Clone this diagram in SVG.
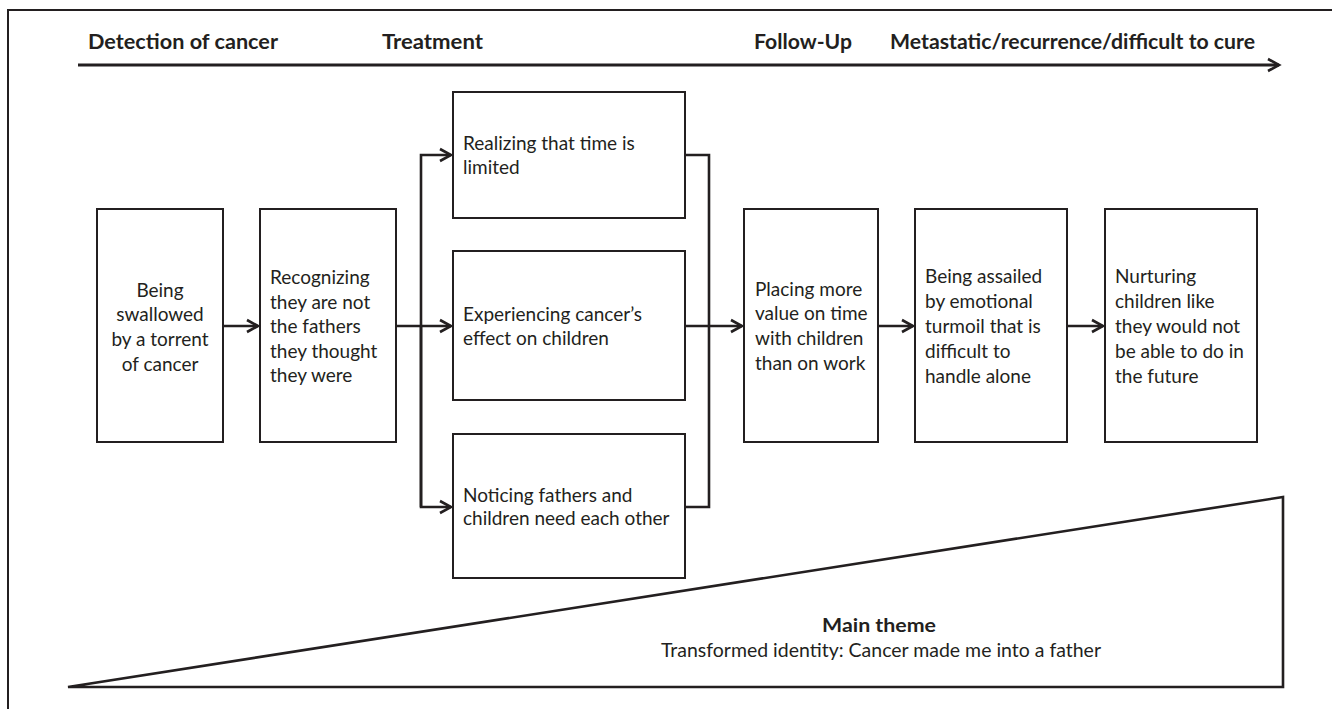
<svg xmlns="http://www.w3.org/2000/svg" width="1332" height="709" viewBox="0 0 1332 709">
<defs>
<marker id="arr" viewBox="-13 -8 16 16" markerWidth="16" markerHeight="16" refX="0" refY="0" orient="auto" markerUnits="userSpaceOnUse">
<polyline points="-11,-6 0,0 -11,6" fill="none" stroke="#231f20" stroke-width="2.6" stroke-linejoin="miter"/>
</marker>
<style>
.box{fill:#fff;stroke:#231f20;stroke-width:2}
.t{font-family:Lato,"Open Sans","Liberation Sans",sans-serif;font-size:19px;fill:#231f20}
.h{font-family:Lato,"Open Sans","Liberation Sans",sans-serif;font-size:21px;font-weight:bold;fill:#231f20}
.c{fill:none;stroke:#231f20;stroke-width:2.6}
</style>
</defs>
<rect width="1332" height="709" fill="#fff"/>
<g id="frame"><polyline points="8,709 8,10 1332,10" fill="none" stroke="#231f20" stroke-width="2"/></g>
<g id="timeline">
<line x1="78" y1="65" x2="1279" y2="65" stroke="#231f20" stroke-width="3" marker-end="url(#arr)"/>
<text class="h" x="88" y="49" textLength="190" lengthAdjust="spacingAndGlyphs">Detection of cancer</text>
<text class="h" x="382" y="49" textLength="101" lengthAdjust="spacingAndGlyphs">Treatment</text>
<text class="h" x="754" y="49" textLength="98" lengthAdjust="spacingAndGlyphs">Follow-Up</text>
<text class="h" x="890" y="49" textLength="365" lengthAdjust="spacingAndGlyphs">Metastatic/recurrence/difficult to cure</text>
</g>
<g id="connectors">
<line class="c" x1="223" y1="326" x2="258" y2="326" marker-end="url(#arr)"/>
<line class="c" x1="396" y1="326" x2="451" y2="326" marker-end="url(#arr)"/>
<polyline class="c" points="421,507 421,155 451,155" marker-end="url(#arr)"/>
<polyline class="c" points="421,326 421,507 451,507" marker-end="url(#arr)"/>
<polyline class="c" points="685,155 709,155 709,507 685,507"/>
<line class="c" x1="685" y1="326" x2="742" y2="326" marker-end="url(#arr)"/>
<line class="c" x1="878" y1="326" x2="913" y2="326" marker-end="url(#arr)"/>
<line class="c" x1="1067" y1="326" x2="1103" y2="326" marker-end="url(#arr)"/>
</g>
<g id="n1">
<rect class="box" x="97" y="209" width="126" height="233"/>
<text class="t" text-anchor="middle"><tspan x="160" y="297">Being</tspan><tspan x="160" y="321">swallowed</tspan><tspan x="160" y="346">by a torrent</tspan><tspan x="160" y="371">of cancer</tspan></text>
</g>
<g id="n2">
<rect class="box" x="260" y="209" width="136" height="233"/>
<text class="t"><tspan x="270" y="284">Recognizing</tspan><tspan x="270" y="309">they are not</tspan><tspan x="270" y="333">the fathers</tspan><tspan x="270" y="358">they thought</tspan><tspan x="270" y="382">they were</tspan></text>
</g>
<g id="n3">
<rect class="box" x="453" y="92" width="232" height="126"/>
<text class="t"><tspan x="463" y="150">Realizing that time is</tspan><tspan x="463" y="174">limited</tspan></text>
</g>
<g id="n4">
<rect class="box" x="453" y="251" width="232" height="149"/>
<text class="t"><tspan x="463" y="321">Experiencing cancer’s</tspan><tspan x="463" y="345">effect on children</tspan></text>
</g>
<g id="n5">
<rect class="box" x="453" y="434" width="232" height="144"/>
<text class="t"><tspan x="463" y="502">Noticing fathers and</tspan><tspan x="463" y="525">children need each other</tspan></text>
</g>
<g id="n6">
<rect class="box" x="744" y="209" width="134" height="233"/>
<text class="t"><tspan x="755" y="296">Placing more</tspan><tspan x="755" y="320">value on time</tspan><tspan x="755" y="345">with children</tspan><tspan x="755" y="370">than on work</tspan></text>
</g>
<g id="n7">
<rect class="box" x="915" y="209" width="152" height="233"/>
<text class="t"><tspan x="925" y="283">Being assailed</tspan><tspan x="925" y="308">by emotional</tspan><tspan x="925" y="333">turmoil that is</tspan><tspan x="925" y="358">difficult to</tspan><tspan x="925" y="383">handle alone</tspan></text>
</g>
<g id="n8">
<rect class="box" x="1105" y="209" width="152" height="233"/>
<text class="t"><tspan x="1115" y="283">Nurturing</tspan><tspan x="1115" y="308">children like</tspan><tspan x="1115" y="333">they would not</tspan><tspan x="1115" y="358">be able to do in</tspan><tspan x="1115" y="383">the future</tspan></text>
</g>
<g id="theme">
<polygon points="68,687 1283,497 1283,687" fill="none" stroke="#231f20" stroke-width="2.6" stroke-linejoin="miter"/>
<text class="t" x="822" y="632" font-weight="bold" font-size="20" textLength="114" lengthAdjust="spacingAndGlyphs">Main theme</text>
<text class="t" x="661" y="657" textLength="440" lengthAdjust="spacingAndGlyphs">Transformed identity: Cancer made me into a father</text>
</g>
</svg>
